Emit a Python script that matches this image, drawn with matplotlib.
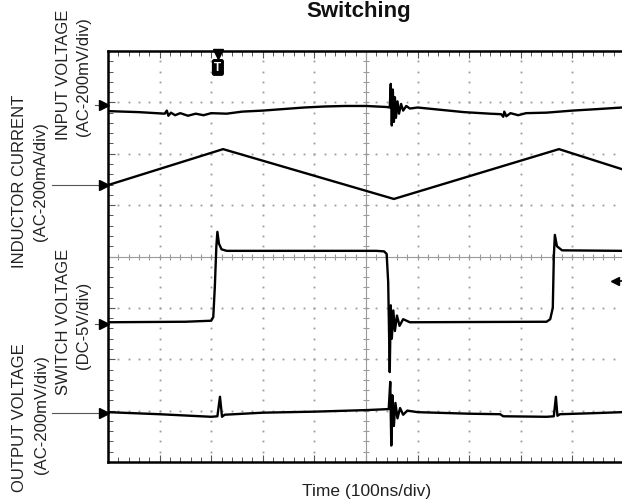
import numpy as np
import matplotlib
matplotlib.use("Agg")
import matplotlib.pyplot as plt

plt.rcParams['font.family'] = ['Liberation Sans', 'DejaVu Sans']

# traces, in scope divisions (x: 100ns/div, y: div from centre)
input_t = [0.00, 0.60, 1.10, 1.14, 1.17, 1.22, 1.30, 1.40, 1.55, 1.70, 1.85, 2.00,
           2.30, 2.60, 3.00, 3.40, 3.80, 4.20, 4.60, 5.00, 5.40, 5.46, 5.48, 5.50,
           5.52, 5.54, 5.56, 5.58, 5.61, 5.64, 5.68, 5.72, 5.78, 5.85, 6.00, 6.40,
           6.90, 7.40, 7.62, 7.66, 7.68, 7.72, 7.80, 7.95, 8.10, 8.50, 9.00, 9.50, 9.96]
input_v = [2.83, 2.81, 2.78, 2.84, 2.74, 2.80, 2.75, 2.79, 2.74, 2.78, 2.75, 2.79,
           2.78, 2.82, 2.84, 2.87, 2.90, 2.92, 2.93, 2.93, 2.91, 2.90, 3.36, 2.55,
           3.25, 2.62, 3.10, 2.70, 3.02, 2.78, 2.97, 2.84, 2.93, 2.88, 2.90, 2.86,
           2.81, 2.78, 2.77, 2.72, 2.82, 2.73, 2.79, 2.75, 2.79, 2.80, 2.84, 2.87, 2.90]

inductor_t = [0.00, 2.23, 5.54, 8.74, 9.96]
inductor_v = [1.39, 2.09, 1.12, 2.09, 1.70]

switch_t = [0.00, 1.50, 2.00, 2.04, 2.07, 2.10, 2.12, 2.15, 2.20, 2.30, 5.20, 5.35,
            5.40, 5.43, 5.46, 5.48, 5.50, 5.53, 5.56, 5.60, 5.65, 5.72, 5.85, 8.50,
            8.57, 8.62, 8.64, 8.66, 8.70, 8.80, 9.96]
switch_v = [-1.28, -1.27, -1.25, -1.18, -0.60, 0.20, 0.48, 0.25, 0.14, 0.11, 0.11, 0.10,
            0.05, -0.50, -2.25, -0.95, -1.60, -1.05, -1.45, -1.15, -1.35, -1.22, -1.28, -1.27,
            -1.22, -1.00, 0.00, 0.42, 0.20, 0.12, 0.11]

output_t = [0.00, 1.00, 2.00, 2.12, 2.17, 2.21, 2.26, 3.00, 4.00, 5.00, 5.44, 5.47,
            5.49, 5.51, 5.54, 5.57, 5.61, 5.66, 5.72, 5.80, 6.00, 7.00, 7.60, 7.66,
            8.50, 8.64, 8.68, 8.71, 8.76, 9.40, 9.96]
output_v = [-3.03, -3.07, -3.12, -3.11, -2.73, -3.12, -3.08, -3.04, -3.02, -2.99, -2.97, -2.44,
            -3.68, -2.70, -3.30, -2.85, -3.15, -2.95, -3.08, -3.00, -3.03, -3.06, -3.07, -3.11,
            -3.12, -3.11, -2.73, -3.10, -3.07, -3.05, -3.03]

# channel ground markers on the left edge
marker_levels = [2.95, 1.39, -1.31, -3.04]
marker_long = [False, True, False, True]
trigger_t = 2.13
right_marker = -0.48

W, H = 622, 502
fig = plt.figure(figsize=(W / 100, H / 100), dpi=100)
ax = fig.add_axes([108 / W, 1 - 463 / H, 516 / W, 411 / H])
ax.set_xlim(0, 10)
ax.set_ylim(-4, 4)

grid_c = '#9a9a9a'
steps = np.arange(0, 10.01, 0.2)
vsteps = np.arange(-4, 4.01, 0.2)
for gx in [1, 2, 3, 4, 6, 7, 8, 9]:
    ax.plot(np.full(len(vsteps), gx), vsteps, ls='none', marker='s', ms=1.3,
            color=grid_c, mew=0)
for gy in [-3, -2, -1, 1, 2, 3]:
    ax.plot(steps, np.full(len(steps), gy), ls='none', marker='s', ms=1.3,
            color=grid_c, mew=0)
ax.axhline(0, color=grid_c, lw=0.8)
ax.axvline(5, color=grid_c, lw=0.8)
ax.plot(steps, np.zeros(len(steps)), ls='none', marker='|', ms=5, color=grid_c, mew=0.8)
ax.plot(np.full(len(vsteps), 5), vsteps, ls='none', marker='_', ms=5, color=grid_c, mew=0.8)

for t, v in [(input_t, input_v), (inductor_t, inductor_v),
             (switch_t, switch_v), (output_t, output_v)]:
    ax.plot(t, v, color='black', lw=1.7, solid_joinstyle='round')

for lev, long_ in zip(marker_levels, marker_long):
    x0 = -1.09 if long_ else -0.25
    ax.plot([x0, -0.12], [lev, lev], color='#555555', lw=0.8, clip_on=False)
    ax.plot([-0.08], [lev], marker='>', ms=7, color='black', clip_on=False)

ax.plot([trigger_t], [3.95], marker='v', ms=7, color='black', clip_on=False)
ax.text(trigger_t, 3.68, 'T', color='white', fontsize=8.5, fontweight='bold',
        ha='center', va='center',
        bbox=dict(boxstyle='round,pad=0.15', fc='black', ec='black'))
ax.plot([9.80, 9.99], [right_marker, right_marker], color='black', lw=1.2,
        clip_on=False)
ax.plot([9.82], [right_marker], marker='<', ms=6, color='black', clip_on=False)

for s in ax.spines.values():
    s.set_linewidth(1.8)
ax.set_xticks(range(0, 11))
ax.set_yticks(range(-4, 5))
ax.set_xticks(steps, minor=True)
ax.set_yticks(vsteps, minor=True)
ax.tick_params(which='both', direction='in', top=True, right=False,
               labelbottom=False, labelleft=False, color='#555555')
ax.tick_params(which='major', length=5, width=0.8)
ax.tick_params(which='minor', length=3.5, width=0.7)


def ftext(px, py, s, **kw):
    fig.text(px / W, 1 - py / H, s, **kw)


lab = dict(rotation=90, ha='center', va='center', fontsize=12, color='#222222')
ftext(63, 75, 'INPUT VOLTAGE', **lab)
ftext(83, 77, '(AC-200mV/div)', **lab)
ftext(20, 181, 'INDUCTOR CURRENT', **lab)
ftext(41, 182, '(AC-200mA/div)', **lab)
ftext(63, 322, 'SWITCH VOLTAGE', **lab)
ftext(83, 325, '(DC-5V/div)', **lab)
ftext(20, 418, 'OUTPUT VOLTAGE', **lab)
ftext(42, 415, '(AC-200mV/div)', **lab)

ftext(359, 17, 'Switching', ha='center', va='baseline', fontsize=16,
      fontweight='bold', color='#111111')
ftext(367, 496, 'Time (100ns/div)', ha='center', va='baseline', fontsize=12.5,
      color='#222222')

fig.savefig('out.png', dpi=100)
